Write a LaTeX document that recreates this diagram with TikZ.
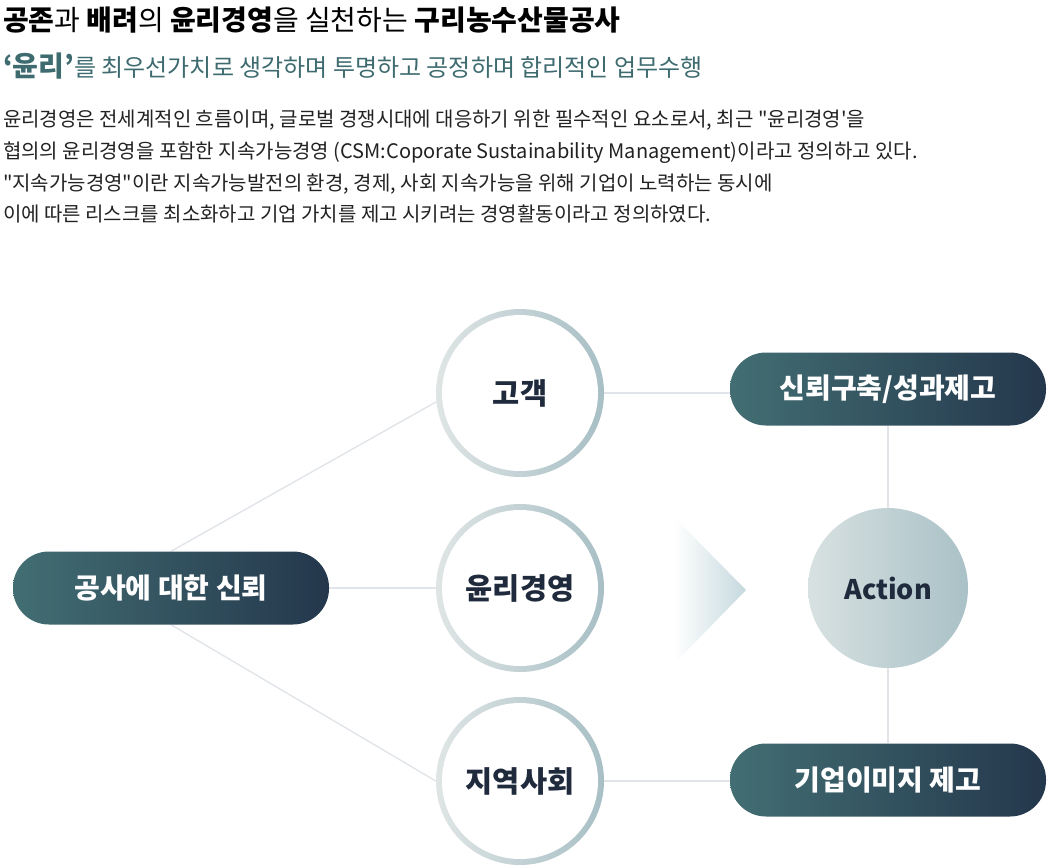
\documentclass[tikz,border=0pt]{standalone}
\usepackage{fontspec}
\setmainfont{Noto Sans CJK KR}
\newfontfamily\plainkr{Noto Sans CJK KR}
\usetikzlibrary{shadings}
\pgfdeclarelayer{background}
\pgfsetlayers{background,main}
\definecolor{pillL}{HTML}{426E73}
\definecolor{pillR}{HTML}{24374C}
\definecolor{ringL}{HTML}{DFE5E5}
\definecolor{ringR}{HTML}{A7BFC5}
\definecolor{actL}{HTML}{D8E1E1}
\definecolor{actR}{HTML}{A9C1C7}
\definecolor{navy}{HTML}{1F2B3D}
\definecolor{tealtxt}{HTML}{3E6B6F}
\definecolor{linec}{HTML}{E1E4E9}
\definecolor{arrowR}{HTML}{C5D9DE}
\definecolor{bodytxt}{HTML}{222222}
\newcommand{\dq}{{\plainkr"}}
\newcommand{\sq}{{\plainkr'}}
\tikzset{
  ring/.style={circle, minimum size=168pt, inner sep=0pt, left color=ringL, right color=ringR,
    path picture={\fill[white] (path picture bounding box.center) circle (78pt);},
    font=\fontsize{29.5}{32}\selectfont\bfseries, text=navy},
  pill/.style={rectangle, rounded corners=36pt, minimum width=316pt, minimum height=73pt, inner sep=0pt,
    left color=pillL, right color=pillR, text=white, font=\fontsize{28}{32}\selectfont\bfseries},
  action/.style={circle, minimum size=160pt, inner sep=0pt, left color=actL, right color=actR,
    text=navy, font=\fontsize{27}{30}\selectfont\bfseries},
  conn/.style={draw=linec, line width=1.4pt},
  txt/.style={anchor=base west, inner sep=0pt, outer sep=0pt},
  bodyline/.style={txt, text=bodytxt, font=\fontsize{20}{24}\selectfont}
}
\begin{document}
\begin{tikzpicture}[x=1pt,y=-1pt]
\useasboundingbox (0,0) rectangle (1054,867);
% header
\node[txt, text=black, font=\fontsize{28}{32}\selectfont] (h1) at (3,31)
  {\textbf{공존}과 \textbf{배려}의 \textbf{윤리경영}을 실천하는 \textbf{구리농수산물공사}};
\node[txt, text=tealtxt, font=\fontsize{24}{28}\selectfont] (h2) at (3,77)
  {{\fontsize{28}{30}\selectfont\bfseries ‘윤리’}를 최우선가치로 생각하며 투명하고 공정하며 합리적인 업무수행};
\node[bodyline] (b1) at (3,126)
  {윤리경영은 전세계적인 흐름이며, 글로벌 경쟁시대에 대응하기 위한 필수적인 요소로서, 최근 \dq 윤리경영\sq 을};
\node[bodyline] (b2) at (3,158)
  {협의의 윤리경영을 포함한 지속가능경영 (CSM:Coporate Sustainability Management)이라고 정의하고 있다.};
\node[bodyline] (b3) at (3,190)
  {\dq 지속가능경영\dq 이란 지속가능발전의 환경, 경제, 사회 지속가능을 위해 기업이 노력하는 동시에};
\node[bodyline] (b4) at (3,221)
  {이에 따른 리스크를 최소화하고 기업 가치를 제고 시키려는 경영활동이라고 정의하였다.};
% nodes
\node[pill] (p0) at (171,588) {공사에 대한 신뢰};
\node[ring] (c1) at (520,393) {고객};
\node[ring] (c2) at (520,588) {윤리경영};
\node[ring] (c3) at (520,781) {지역사회};
\node[pill] (p1) at (888,389) {신뢰구축/성과제고};
\node[action] (act) at (888,588) {Action};
\node[pill] (p2) at (888,780) {기업이미지 제고};
% arrow
\shade[left color=white, right color=arrowR] (674,517) -- (746,590) -- (674,664) -- cycle;
% connectors
\begin{pgfonlayer}{background}
\draw[conn] (p0.north) -- (c1.186);
\draw[conn] (p0.south) -- (c3.west);
\draw[conn] (p0.east) -- (c2.west);
\draw[conn] (c1.east) -- (c1.east -| p1.west);
\draw[conn] (c3.east) -- (c3.east -| p2.west);
\draw[conn] (p1.south) -- (p2.north);
\end{pgfonlayer}
\end{tikzpicture}
\end{document}
